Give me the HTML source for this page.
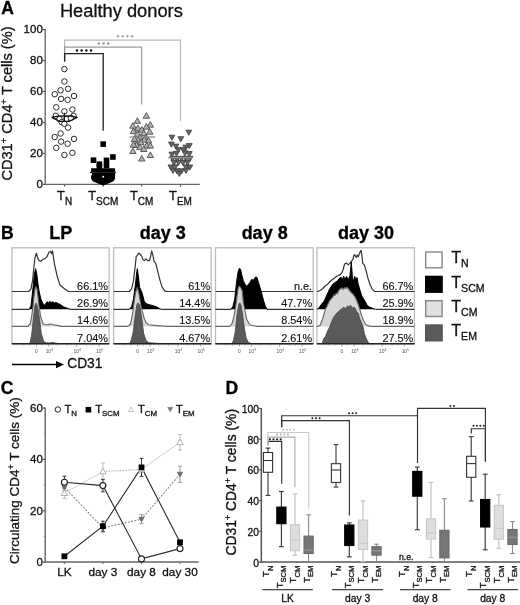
<!DOCTYPE html>
<html><head><meta charset="utf-8"><style>
html,body{margin:0;padding:0;background:#fff;}
svg{display:block;will-change:transform;}
text{font-family:"Liberation Sans", sans-serif;}
</style></head><body>
<svg width="520" height="605" viewBox="0 0 520 605">
<rect width="520" height="605" fill="#fff"/>
<text x="1.30" y="13.60" font-size="17.5" text-anchor="start" font-weight="bold" fill="#000" stroke="#000" stroke-width="0.3" >A</text>
<text x="59.90" y="16.60" font-size="18.3" text-anchor="start" font-weight="normal" fill="#111" stroke="#111" stroke-width="0.3" >Healthy donors</text>
<line x1="45.20" y1="29.10" x2="45.20" y2="185.00" stroke="#666" stroke-width="1.35" />
<line x1="44.50" y1="184.40" x2="199.80" y2="184.40" stroke="#666" stroke-width="1.4" />
<line x1="43.00" y1="184.40" x2="45.20" y2="184.40" stroke="#555" stroke-width="1.2" />
<text x="42.80" y="187.80" font-size="11.5" text-anchor="end" font-weight="normal" fill="#111" stroke="#111" stroke-width="0.3" >0</text>
<line x1="43.00" y1="153.44" x2="45.20" y2="153.44" stroke="#555" stroke-width="1.2" />
<text x="42.80" y="156.84" font-size="11.5" text-anchor="end" font-weight="normal" fill="#111" stroke="#111" stroke-width="0.3" >20</text>
<line x1="43.00" y1="122.48" x2="45.20" y2="122.48" stroke="#555" stroke-width="1.2" />
<text x="42.80" y="125.88" font-size="11.5" text-anchor="end" font-weight="normal" fill="#111" stroke="#111" stroke-width="0.3" >40</text>
<line x1="43.00" y1="91.52" x2="45.20" y2="91.52" stroke="#555" stroke-width="1.2" />
<text x="42.80" y="94.92" font-size="11.5" text-anchor="end" font-weight="normal" fill="#111" stroke="#111" stroke-width="0.3" >60</text>
<line x1="43.00" y1="60.56" x2="45.20" y2="60.56" stroke="#555" stroke-width="1.2" />
<text x="42.80" y="63.96" font-size="11.5" text-anchor="end" font-weight="normal" fill="#111" stroke="#111" stroke-width="0.3" >80</text>
<line x1="43.00" y1="29.60" x2="45.20" y2="29.60" stroke="#555" stroke-width="1.2" />
<text x="42.80" y="33.00" font-size="11.5" text-anchor="end" font-weight="normal" fill="#111" stroke="#111" stroke-width="0.3" >100</text>
<line x1="64.60" y1="184.40" x2="64.60" y2="186.60" stroke="#555" stroke-width="1.2" />
<line x1="103.20" y1="184.40" x2="103.20" y2="186.60" stroke="#555" stroke-width="1.2" />
<line x1="141.70" y1="184.40" x2="141.70" y2="186.60" stroke="#555" stroke-width="1.2" />
<line x1="180.50" y1="184.40" x2="180.50" y2="186.60" stroke="#555" stroke-width="1.2" />
<text x="64.60" y="200.40" font-size="12.8" text-anchor="middle" fill="#111" stroke="#111" stroke-width="0.3" >T<tspan font-size="10.0" dy="4.4">N</tspan></text>
<text x="103.20" y="200.40" font-size="12.8" text-anchor="middle" fill="#111" stroke="#111" stroke-width="0.3" >T<tspan font-size="10.0" dy="4.4">SCM</tspan></text>
<text x="141.70" y="200.40" font-size="12.8" text-anchor="middle" fill="#111" stroke="#111" stroke-width="0.3" >T<tspan font-size="10.0" dy="4.4">CM</tspan></text>
<text x="180.50" y="200.40" font-size="12.8" text-anchor="middle" fill="#111" stroke="#111" stroke-width="0.3" >T<tspan font-size="10.0" dy="4.4">EM</tspan></text>
<text transform="translate(12.3,180.6) rotate(-90)" font-size="14.6" fill="#111" stroke="#111" stroke-width="0.3">CD31<tspan font-size="9.5" dy="-5.5">+</tspan><tspan dy="5.5"> CD4</tspan><tspan font-size="9.5" dy="-5.5">+</tspan><tspan dy="5.5"> T cells (%)</tspan></text>
<path d="M64.60,62.00 L64.60,40.20 L180.50,40.20 L180.50,121.20" fill="none" stroke="#bbb" stroke-width="1.2" />
<path d="M64.60,62.00 L64.60,47.20 L141.70,47.20 L141.70,104.40" fill="none" stroke="#999" stroke-width="1.2" />
<path d="M64.60,61.60 L64.60,53.60 L103.20,53.60 L103.20,130.80" fill="none" stroke="#222" stroke-width="1.3" />
<circle cx="76.95" cy="50.60" r="1.25" fill="#111"/>
<circle cx="81.65" cy="50.60" r="1.25" fill="#111"/>
<circle cx="86.35" cy="50.60" r="1.25" fill="#111"/>
<circle cx="91.05" cy="50.60" r="1.25" fill="#111"/>
<circle cx="98.80" cy="43.60" r="1.25" fill="#999"/>
<circle cx="103.50" cy="43.60" r="1.25" fill="#999"/>
<circle cx="108.20" cy="43.60" r="1.25" fill="#999"/>
<circle cx="117.95" cy="36.30" r="1.25" fill="#aaa"/>
<circle cx="122.65" cy="36.30" r="1.25" fill="#aaa"/>
<circle cx="127.35" cy="36.30" r="1.25" fill="#aaa"/>
<circle cx="132.05" cy="36.30" r="1.25" fill="#aaa"/>
<circle cx="64.4" cy="69.1" r="2.75" fill="#fff" stroke="#2a2a2a" stroke-width="1.0"/>
<circle cx="64.4" cy="81.5" r="2.75" fill="#fff" stroke="#2a2a2a" stroke-width="1.0"/>
<circle cx="60.6" cy="90.3" r="2.75" fill="#fff" stroke="#2a2a2a" stroke-width="1.0"/>
<circle cx="68.1" cy="88.8" r="2.75" fill="#fff" stroke="#2a2a2a" stroke-width="1.0"/>
<circle cx="54.7" cy="94.2" r="2.75" fill="#fff" stroke="#2a2a2a" stroke-width="1.0"/>
<circle cx="74" cy="96" r="2.75" fill="#fff" stroke="#2a2a2a" stroke-width="1.0"/>
<circle cx="61.1" cy="98.9" r="2.75" fill="#fff" stroke="#2a2a2a" stroke-width="1.0"/>
<circle cx="67.6" cy="99.8" r="2.75" fill="#fff" stroke="#2a2a2a" stroke-width="1.0"/>
<circle cx="56.3" cy="107.3" r="2.75" fill="#fff" stroke="#2a2a2a" stroke-width="1.0"/>
<circle cx="64.4" cy="111.4" r="2.75" fill="#fff" stroke="#2a2a2a" stroke-width="1.0"/>
<circle cx="72.4" cy="109.5" r="2.75" fill="#fff" stroke="#2a2a2a" stroke-width="1.0"/>
<circle cx="55.8" cy="115.8" r="2.75" fill="#fff" stroke="#2a2a2a" stroke-width="1.0"/>
<circle cx="73.5" cy="115.8" r="2.75" fill="#fff" stroke="#2a2a2a" stroke-width="1.0"/>
<circle cx="59.5" cy="119" r="2.75" fill="#fff" stroke="#2a2a2a" stroke-width="1.0"/>
<circle cx="66.5" cy="119" r="2.75" fill="#fff" stroke="#2a2a2a" stroke-width="1.0"/>
<circle cx="70.8" cy="117.9" r="2.75" fill="#fff" stroke="#2a2a2a" stroke-width="1.0"/>
<circle cx="61.7" cy="122.2" r="2.75" fill="#fff" stroke="#2a2a2a" stroke-width="1.0"/>
<circle cx="64.4" cy="123.8" r="2.75" fill="#fff" stroke="#2a2a2a" stroke-width="1.0"/>
<circle cx="68.1" cy="127.6" r="2.75" fill="#fff" stroke="#2a2a2a" stroke-width="1.0"/>
<circle cx="60.6" cy="133.5" r="2.75" fill="#fff" stroke="#2a2a2a" stroke-width="1.0"/>
<circle cx="54.7" cy="137" r="2.75" fill="#fff" stroke="#2a2a2a" stroke-width="1.0"/>
<circle cx="74" cy="138.9" r="2.75" fill="#fff" stroke="#2a2a2a" stroke-width="1.0"/>
<circle cx="61.1" cy="141.6" r="2.75" fill="#fff" stroke="#2a2a2a" stroke-width="1.0"/>
<circle cx="67.6" cy="143.7" r="2.75" fill="#fff" stroke="#2a2a2a" stroke-width="1.0"/>
<circle cx="56.3" cy="147.8" r="2.75" fill="#fff" stroke="#2a2a2a" stroke-width="1.0"/>
<circle cx="64.4" cy="155" r="2.75" fill="#fff" stroke="#2a2a2a" stroke-width="1.0"/>
<circle cx="72.4" cy="152.8" r="2.75" fill="#fff" stroke="#2a2a2a" stroke-width="1.0"/>
<path d="M51.60,117.40 L58.00,116.20 L64.40,115.80 L70.80,116.20 L77.20,117.40 L69.50,121.30 L59.30,121.30 L51.60,117.40" fill="none" stroke="#111" stroke-width="1.2" stroke-linejoin="round"/>
<line x1="64.40" y1="112.80" x2="64.40" y2="121.30" stroke="#111" stroke-width="1.1" />
<path d="M91.10,168.30 L115.10,168.30 L115.10,178.50 L113.50,181.20 L109.00,183.20 L103.20,185.40 L97.40,183.20 L92.70,181.20 L91.10,178.50 L91.10,168.30" fill="#000" stroke="none" stroke-width="1" />
<rect x="100.40" y="141.30" width="5.6" height="5.6" fill="#000"/>
<rect x="110.10" y="154.20" width="5.6" height="5.6" fill="#000"/>
<rect x="90.70" y="157.40" width="5.6" height="5.6" fill="#000"/>
<rect x="96.60" y="161.40" width="5.6" height="5.6" fill="#000"/>
<rect x="103.70" y="157.60" width="5.6" height="5.6" fill="#000"/>
<rect x="103.70" y="162.80" width="5.6" height="5.6" fill="#000"/>
<rect x="96.60" y="163.70" width="5.6" height="5.6" fill="#000"/>
<rect x="90.6" y="173.2" width="1.4" height="2" fill="#fff"/>
<circle cx="103.2" cy="176.7" r="1.0" fill="#fff"/>
<line x1="90.00" y1="172.40" x2="116.00" y2="172.40" stroke="#222" stroke-width="1.1" />
<path d="M146.30,112.70 L149.50,118.30 L143.10,118.30Z" fill="#b2b2b2" stroke="#4e4e4e" stroke-width="0.9"/>
<path d="M137.40,117.70 L140.60,123.30 L134.20,123.30Z" fill="#b2b2b2" stroke="#4e4e4e" stroke-width="0.9"/>
<path d="M150.30,121.60 L153.50,127.20 L147.10,127.20Z" fill="#b2b2b2" stroke="#4e4e4e" stroke-width="0.9"/>
<path d="M132.90,122.60 L136.10,128.20 L129.70,128.20Z" fill="#b2b2b2" stroke="#4e4e4e" stroke-width="0.9"/>
<path d="M146.30,123.60 L149.50,129.20 L143.10,129.20Z" fill="#b2b2b2" stroke="#4e4e4e" stroke-width="0.9"/>
<path d="M137.90,125.10 L141.10,130.70 L134.70,130.70Z" fill="#b2b2b2" stroke="#4e4e4e" stroke-width="0.9"/>
<path d="M141.80,126.60 L145.00,132.20 L138.60,132.20Z" fill="#b2b2b2" stroke="#4e4e4e" stroke-width="0.9"/>
<path d="M133.40,128.10 L136.60,133.70 L130.20,133.70Z" fill="#b2b2b2" stroke="#4e4e4e" stroke-width="0.9"/>
<path d="M149.80,128.60 L153.00,134.20 L146.60,134.20Z" fill="#b2b2b2" stroke="#4e4e4e" stroke-width="0.9"/>
<path d="M143.80,130.10 L147.00,135.70 L140.60,135.70Z" fill="#b2b2b2" stroke="#4e4e4e" stroke-width="0.9"/>
<path d="M137.40,130.80 L140.60,136.40 L134.20,136.40Z" fill="#b2b2b2" stroke="#4e4e4e" stroke-width="0.9"/>
<path d="M140.00,133.80 L143.20,139.40 L136.80,139.40Z" fill="#b2b2b2" stroke="#4e4e4e" stroke-width="0.9"/>
<path d="M146.00,134.30 L149.20,139.90 L142.80,139.90Z" fill="#b2b2b2" stroke="#4e4e4e" stroke-width="0.9"/>
<path d="M137.90,136.50 L141.10,142.10 L134.70,142.10Z" fill="#b2b2b2" stroke="#4e4e4e" stroke-width="0.9"/>
<path d="M144.30,136.50 L147.50,142.10 L141.10,142.10Z" fill="#b2b2b2" stroke="#4e4e4e" stroke-width="0.9"/>
<path d="M134.50,135.80 L137.70,141.40 L131.30,141.40Z" fill="#b2b2b2" stroke="#4e4e4e" stroke-width="0.9"/>
<path d="M148.50,137.30 L151.70,142.90 L145.30,142.90Z" fill="#b2b2b2" stroke="#4e4e4e" stroke-width="0.9"/>
<path d="M141.00,139.30 L144.20,144.90 L137.80,144.90Z" fill="#b2b2b2" stroke="#4e4e4e" stroke-width="0.9"/>
<path d="M136.50,141.80 L139.70,147.40 L133.30,147.40Z" fill="#b2b2b2" stroke="#4e4e4e" stroke-width="0.9"/>
<path d="M133.40,141.50 L136.60,147.10 L130.20,147.10Z" fill="#b2b2b2" stroke="#4e4e4e" stroke-width="0.9"/>
<path d="M139.80,144.00 L143.00,149.60 L136.60,149.60Z" fill="#b2b2b2" stroke="#4e4e4e" stroke-width="0.9"/>
<path d="M146.80,142.50 L150.00,148.10 L143.60,148.10Z" fill="#b2b2b2" stroke="#4e4e4e" stroke-width="0.9"/>
<path d="M150.30,142.50 L153.50,148.10 L147.10,148.10Z" fill="#b2b2b2" stroke="#4e4e4e" stroke-width="0.9"/>
<path d="M143.80,145.90 L147.00,151.50 L140.60,151.50Z" fill="#b2b2b2" stroke="#4e4e4e" stroke-width="0.9"/>
<path d="M132.90,147.90 L136.10,153.50 L129.70,153.50Z" fill="#b2b2b2" stroke="#4e4e4e" stroke-width="0.9"/>
<path d="M150.30,151.90 L153.50,157.50 L147.10,157.50Z" fill="#b2b2b2" stroke="#4e4e4e" stroke-width="0.9"/>
<path d="M141.80,155.40 L145.00,161.00 L138.60,161.00Z" fill="#b2b2b2" stroke="#4e4e4e" stroke-width="0.9"/>
<line x1="129.40" y1="137.00" x2="155.20" y2="137.00" stroke="#888" stroke-width="1.2" />
<path d="M188.80,135.30 L191.70,130.22 L185.90,130.22Z" fill="#666" stroke="#444" stroke-width="0.9"/>
<path d="M171.90,140.30 L174.80,135.22 L169.00,135.22Z" fill="#666" stroke="#444" stroke-width="0.9"/>
<path d="M180.80,141.80 L183.70,136.72 L177.90,136.72Z" fill="#666" stroke="#444" stroke-width="0.9"/>
<path d="M171.40,147.20 L174.30,142.12 L168.50,142.12Z" fill="#666" stroke="#444" stroke-width="0.9"/>
<path d="M175.90,149.20 L178.80,144.12 L173.00,144.12Z" fill="#666" stroke="#444" stroke-width="0.9"/>
<path d="M189.30,148.70 L192.20,143.62 L186.40,143.62Z" fill="#666" stroke="#444" stroke-width="0.9"/>
<path d="M185.80,150.20 L188.70,145.12 L182.90,145.12Z" fill="#666" stroke="#444" stroke-width="0.9"/>
<path d="M178.40,152.70 L181.30,147.62 L175.50,147.62Z" fill="#666" stroke="#444" stroke-width="0.9"/>
<path d="M183.30,152.70 L186.20,147.62 L180.40,147.62Z" fill="#666" stroke="#444" stroke-width="0.9"/>
<path d="M171.90,157.20 L174.80,152.12 L169.00,152.12Z" fill="#666" stroke="#444" stroke-width="0.9"/>
<path d="M176.50,156.40 L179.40,151.32 L173.60,151.32Z" fill="#666" stroke="#444" stroke-width="0.9"/>
<path d="M185.00,155.90 L187.90,150.82 L182.10,150.82Z" fill="#666" stroke="#444" stroke-width="0.9"/>
<path d="M189.30,156.70 L192.20,151.62 L186.40,151.62Z" fill="#666" stroke="#444" stroke-width="0.9"/>
<path d="M172.50,161.40 L175.40,156.32 L169.60,156.32Z" fill="#666" stroke="#444" stroke-width="0.9"/>
<path d="M177.00,161.90 L179.90,156.82 L174.10,156.82Z" fill="#666" stroke="#444" stroke-width="0.9"/>
<path d="M181.50,161.40 L184.40,156.32 L178.60,156.32Z" fill="#666" stroke="#444" stroke-width="0.9"/>
<path d="M186.00,161.40 L188.90,156.32 L183.10,156.32Z" fill="#666" stroke="#444" stroke-width="0.9"/>
<path d="M190.00,161.40 L192.90,156.32 L187.10,156.32Z" fill="#666" stroke="#444" stroke-width="0.9"/>
<path d="M174.00,165.40 L176.90,160.32 L171.10,160.32Z" fill="#666" stroke="#444" stroke-width="0.9"/>
<path d="M178.50,165.40 L181.40,160.32 L175.60,160.32Z" fill="#666" stroke="#444" stroke-width="0.9"/>
<path d="M183.00,165.40 L185.90,160.32 L180.10,160.32Z" fill="#666" stroke="#444" stroke-width="0.9"/>
<path d="M187.50,165.40 L190.40,160.32 L184.60,160.32Z" fill="#666" stroke="#444" stroke-width="0.9"/>
<path d="M170.90,170.10 L173.80,165.02 L168.00,165.02Z" fill="#666" stroke="#444" stroke-width="0.9"/>
<path d="M175.00,169.90 L177.90,164.82 L172.10,164.82Z" fill="#666" stroke="#444" stroke-width="0.9"/>
<path d="M186.00,169.90 L188.90,164.82 L183.10,164.82Z" fill="#666" stroke="#444" stroke-width="0.9"/>
<path d="M189.80,170.10 L192.70,165.02 L186.90,165.02Z" fill="#666" stroke="#444" stroke-width="0.9"/>
<path d="M173.00,173.40 L175.90,168.32 L170.10,168.32Z" fill="#666" stroke="#444" stroke-width="0.9"/>
<path d="M177.00,173.90 L179.90,168.82 L174.10,168.82Z" fill="#666" stroke="#444" stroke-width="0.9"/>
<path d="M181.50,173.90 L184.40,168.82 L178.60,168.82Z" fill="#666" stroke="#444" stroke-width="0.9"/>
<path d="M186.00,173.40 L188.90,168.32 L183.10,168.32Z" fill="#666" stroke="#444" stroke-width="0.9"/>
<path d="M179.30,176.50 L182.20,171.42 L176.40,171.42Z" fill="#666" stroke="#444" stroke-width="0.9"/>
<line x1="168.00" y1="157.70" x2="193.20" y2="157.70" stroke="#999" stroke-width="1.2" />
<text x="1.00" y="238.60" font-size="17.5" text-anchor="start" font-weight="bold" fill="#000" stroke="#000" stroke-width="0.3" >B</text>
<text x="60.80" y="239.10" font-size="18.0" text-anchor="middle" font-weight="bold" fill="#000" stroke="#000" stroke-width="0.3" >LP</text>
<text x="162.70" y="239.10" font-size="18.0" text-anchor="middle" font-weight="bold" fill="#000" stroke="#000" stroke-width="0.3" >day 3</text>
<text x="264.65" y="239.10" font-size="18.0" text-anchor="middle" font-weight="bold" fill="#000" stroke="#000" stroke-width="0.3" >day 8</text>
<text x="365.95" y="239.10" font-size="18.0" text-anchor="middle" font-weight="bold" fill="#000" stroke="#000" stroke-width="0.3" >day 30</text>
<defs>
<clipPath id="clipB0"><rect x="11.9" y="247.8" width="97.19999999999999" height="97.0"/></clipPath>
<clipPath id="clipB1"><rect x="113.6" y="247.8" width="97.6" height="97.0"/></clipPath>
<clipPath id="clipB2"><rect x="215.5" y="247.8" width="97.69999999999999" height="97.0"/></clipPath>
<clipPath id="clipB3"><rect x="316.9" y="247.8" width="97.5" height="97.0"/></clipPath>
</defs>
<rect x="11.9" y="247.8" width="97.20" height="96.00" fill="#fff" stroke="#bdbdbd" stroke-width="1.3"/>
<g clip-path="url(#clipB0)">
<path d="M10.90,291.50 L28.70,291.50 L31.00,288.80 L32.70,279.60 L33.80,268.00 L35.00,257.70 L36.40,253.10 L37.30,256.50 L38.50,260.00 L40.80,261.20 L43.10,259.40 L44.80,258.80 L47.10,256.50 L48.80,252.50 L50.60,251.30 L51.70,253.70 L52.50,250.80 L53.50,257.70 L54.60,264.60 L56.90,275.00 L59.80,284.80 L63.80,288.30 L68.50,291.50 L110.10,291.50 Z" fill="#fff" stroke="none"/>
<path d="M10.90,291.50 L28.70,291.50 L31.00,288.80 L32.70,279.60 L33.80,268.00 L35.00,257.70 L36.40,253.10 L37.30,256.50 L38.50,260.00 L40.80,261.20 L43.10,259.40 L44.80,258.80 L47.10,256.50 L48.80,252.50 L50.60,251.30 L51.70,253.70 L52.50,250.80 L53.50,257.70 L54.60,264.60 L56.90,275.00 L59.80,284.80 L63.80,288.30 L68.50,291.50 L110.10,291.50" fill="none" stroke="#333" stroke-width="1.2" stroke-linejoin="round"/>
<path d="M10.90,309.30 L29.20,309.30 L31.00,305.80 L32.10,296.50 L33.30,285.00 L34.30,275.00 L35.60,268.70 L36.80,274.00 L37.80,283.00 L39.00,290.80 L40.80,298.80 L43.10,304.00 L44.80,305.20 L46.00,303.00 L47.10,301.70 L48.50,302.80 L49.50,301.50 L51.20,302.30 L52.50,301.80 L54.60,302.90 L56.00,302.50 L58.10,303.50 L60.40,304.60 L63.80,306.90 L68.50,308.70 L70.80,309.30 L110.10,309.30 Z" fill="#000" stroke="none"/>
<path d="M10.90,309.30 L29.20,309.30 L31.00,305.80 L32.10,296.50 L33.30,285.00 L34.30,275.00 L35.60,268.70 L36.80,274.00 L37.80,283.00 L39.00,290.80 L40.80,298.80 L43.10,304.00 L44.80,305.20 L46.00,303.00 L47.10,301.70 L48.50,302.80 L49.50,301.50 L51.20,302.30 L52.50,301.80 L54.60,302.90 L56.00,302.50 L58.10,303.50 L60.40,304.60 L63.80,306.90 L68.50,308.70 L70.80,309.30 L110.10,309.30" fill="none" stroke="#000" stroke-width="1.0" stroke-linejoin="round"/>
<path d="M10.90,326.40 L28.10,326.40 L30.40,323.10 L31.50,317.30 L32.70,309.20 L33.80,298.00 L35.00,289.00 L35.90,286.50 L37.00,289.00 L38.00,297.00 L39.00,306.00 L40.80,317.30 L43.10,323.70 L46.00,324.80 L48.00,324.60 L50.60,324.00 L53.50,324.80 L58.10,325.60 L62.00,326.40 L110.10,326.40 Z" fill="#d6d6d6" stroke="none"/>
<path d="M10.90,326.40 L28.10,326.40 L30.40,323.10 L31.50,317.30 L32.70,309.20 L33.80,298.00 L35.00,289.00 L35.90,286.50 L37.00,289.00 L38.00,297.00 L39.00,306.00 L40.80,317.30 L43.10,323.70 L46.00,324.80 L48.00,324.60 L50.60,324.00 L53.50,324.80 L58.10,325.60 L62.00,326.40 L110.10,326.40" fill="none" stroke="#666" stroke-width="1.1" stroke-linejoin="round"/>
<path d="M10.90,343.60 L29.80,343.60 L31.50,335.80 L33.30,319.60 L35.00,305.20 L36.20,302.90 L37.90,308.10 L39.60,319.60 L41.30,333.50 L43.70,341.50 L46.00,342.80 L50.00,342.90 L53.00,342.50 L56.00,343.20 L60.00,343.60 L110.10,343.60 Z" fill="#5a5a5a" stroke="none"/>
<path d="M10.90,343.60 L29.80,343.60 L31.50,335.80 L33.30,319.60 L35.00,305.20 L36.20,302.90 L37.90,308.10 L39.60,319.60 L41.30,333.50 L43.70,341.50 L46.00,342.80 L50.00,342.90 L53.00,342.50 L56.00,343.20 L60.00,343.60 L110.10,343.60" fill="none" stroke="#444" stroke-width="0.8" stroke-linejoin="round"/>
</g>
<text x="108.00" y="289.50" font-size="10.9" text-anchor="end" font-weight="normal" fill="#111" stroke="#111" stroke-width="0.12" >66.1%</text>
<text x="108.00" y="307.30" font-size="10.9" text-anchor="end" font-weight="normal" fill="#111" stroke="#111" stroke-width="0.12" >26.9%</text>
<text x="108.00" y="324.40" font-size="10.9" text-anchor="end" font-weight="normal" fill="#111" stroke="#111" stroke-width="0.12" >14.6%</text>
<text x="108.00" y="341.60" font-size="10.9" text-anchor="end" font-weight="normal" fill="#111" stroke="#111" stroke-width="0.12" >7.04%</text>
<line x1="11.90" y1="343.80" x2="109.10" y2="343.80" stroke="#222" stroke-width="1.6" />
<line x1="36.50" y1="344.60" x2="36.50" y2="346.40" stroke="#666" stroke-width="0.7" />
<text x="36.40" y="353.30" font-size="4.9" text-anchor="middle" font-weight="normal" fill="#555"  >0</text>
<line x1="48.70" y1="344.60" x2="48.70" y2="346.40" stroke="#666" stroke-width="0.7" />
<text x="49.30" y="353.3" font-size="4.9" text-anchor="middle" fill="#555">10<tspan font-size="3.4" dy="-2.2">3</tspan></text>
<line x1="76.70" y1="344.60" x2="76.70" y2="346.40" stroke="#666" stroke-width="0.7" />
<text x="77.20" y="353.3" font-size="4.9" text-anchor="middle" fill="#555">10<tspan font-size="3.4" dy="-2.2">4</tspan></text>
<line x1="99.10" y1="344.60" x2="99.10" y2="346.40" stroke="#666" stroke-width="0.7" />
<text x="99.80" y="353.3" font-size="4.9" text-anchor="middle" fill="#555">10<tspan font-size="3.4" dy="-2.2">5</tspan></text>
<line x1="22.70" y1="344.60" x2="22.70" y2="345.80" stroke="#777" stroke-width="0.6" />
<line x1="29.60" y1="344.60" x2="29.60" y2="345.80" stroke="#777" stroke-width="0.6" />
<line x1="42.00" y1="344.60" x2="42.00" y2="345.80" stroke="#777" stroke-width="0.6" />
<line x1="57.50" y1="344.60" x2="57.50" y2="345.80" stroke="#777" stroke-width="0.6" />
<line x1="67.00" y1="344.60" x2="67.00" y2="345.80" stroke="#777" stroke-width="0.6" />
<line x1="86.50" y1="344.60" x2="86.50" y2="345.80" stroke="#777" stroke-width="0.6" />
<line x1="92.50" y1="344.60" x2="92.50" y2="345.80" stroke="#777" stroke-width="0.6" />
<rect x="113.6" y="247.8" width="97.60" height="96.00" fill="#fff" stroke="#bdbdbd" stroke-width="1.3"/>
<g clip-path="url(#clipB1)">
<path d="M112.60,291.50 L129.20,291.50 L131.50,288.80 L133.30,281.90 L135.00,268.10 L136.20,256.50 L137.30,255.40 L138.70,253.10 L140.20,254.20 L141.90,256.50 L142.80,259.40 L144.20,260.60 L146.00,258.80 L147.70,260.60 L149.40,260.60 L150.60,256.50 L151.70,250.80 L152.90,255.40 L154.00,261.20 L155.80,263.50 L157.50,270.40 L159.80,279.60 L162.10,287.10 L165.00,291.20 L167.30,291.50 L212.20,291.50 Z" fill="#fff" stroke="none"/>
<path d="M112.60,291.50 L129.20,291.50 L131.50,288.80 L133.30,281.90 L135.00,268.10 L136.20,256.50 L137.30,255.40 L138.70,253.10 L140.20,254.20 L141.90,256.50 L142.80,259.40 L144.20,260.60 L146.00,258.80 L147.70,260.60 L149.40,260.60 L150.60,256.50 L151.70,250.80 L152.90,255.40 L154.00,261.20 L155.80,263.50 L157.50,270.40 L159.80,279.60 L162.10,287.10 L165.00,291.20 L167.30,291.50 L212.20,291.50" fill="none" stroke="#333" stroke-width="1.2" stroke-linejoin="round"/>
<path d="M112.60,309.30 L129.20,309.30 L131.50,306.90 L133.30,300.00 L134.40,291.90 L135.60,283.00 L136.50,274.00 L137.30,268.70 L138.30,276.00 L139.60,287.30 L141.30,290.80 L143.10,296.50 L144.20,301.20 L146.00,303.50 L148.80,304.60 L151.20,305.20 L153.50,305.80 L156.90,306.90 L159.80,308.70 L161.50,309.30 L212.20,309.30 Z" fill="#000" stroke="none"/>
<path d="M112.60,309.30 L129.20,309.30 L131.50,306.90 L133.30,300.00 L134.40,291.90 L135.60,283.00 L136.50,274.00 L137.30,268.70 L138.30,276.00 L139.60,287.30 L141.30,290.80 L143.10,296.50 L144.20,301.20 L146.00,303.50 L148.80,304.60 L151.20,305.20 L153.50,305.80 L156.90,306.90 L159.80,308.70 L161.50,309.30 L212.20,309.30" fill="none" stroke="#000" stroke-width="1.0" stroke-linejoin="round"/>
<path d="M112.60,326.40 L127.50,326.40 L130.40,324.20 L131.50,319.60 L132.70,312.70 L134.00,303.00 L135.50,293.00 L137.30,287.30 L139.00,294.00 L141.30,308.10 L143.10,313.80 L144.20,318.50 L146.00,322.50 L148.80,324.80 L154.60,325.40 L166.20,326.40 L212.20,326.40 Z" fill="#d6d6d6" stroke="none"/>
<path d="M112.60,326.40 L127.50,326.40 L130.40,324.20 L131.50,319.60 L132.70,312.70 L134.00,303.00 L135.50,293.00 L137.30,287.30 L139.00,294.00 L141.30,308.10 L143.10,313.80 L144.20,318.50 L146.00,322.50 L148.80,324.80 L154.60,325.40 L166.20,326.40 L212.20,326.40" fill="none" stroke="#666" stroke-width="1.1" stroke-linejoin="round"/>
<path d="M112.60,343.60 L129.80,343.60 L131.50,339.20 L133.30,331.20 L135.00,317.30 L136.70,305.20 L137.90,302.90 L139.00,304.00 L140.20,308.10 L141.90,319.60 L143.70,333.50 L146.00,340.40 L148.80,342.70 L155.00,343.20 L160.00,343.60 L212.20,343.60 Z" fill="#5a5a5a" stroke="none"/>
<path d="M112.60,343.60 L129.80,343.60 L131.50,339.20 L133.30,331.20 L135.00,317.30 L136.70,305.20 L137.90,302.90 L139.00,304.00 L140.20,308.10 L141.90,319.60 L143.70,333.50 L146.00,340.40 L148.80,342.70 L155.00,343.20 L160.00,343.60 L212.20,343.60" fill="none" stroke="#444" stroke-width="0.8" stroke-linejoin="round"/>
</g>
<text x="210.10" y="289.50" font-size="10.9" text-anchor="end" font-weight="normal" fill="#111" stroke="#111" stroke-width="0.12" >61%</text>
<text x="210.10" y="307.30" font-size="10.9" text-anchor="end" font-weight="normal" fill="#111" stroke="#111" stroke-width="0.12" >14.4%</text>
<text x="210.10" y="324.40" font-size="10.9" text-anchor="end" font-weight="normal" fill="#111" stroke="#111" stroke-width="0.12" >13.5%</text>
<text x="210.10" y="341.60" font-size="10.9" text-anchor="end" font-weight="normal" fill="#111" stroke="#111" stroke-width="0.12" >4.67%</text>
<line x1="113.60" y1="343.80" x2="211.20" y2="343.80" stroke="#222" stroke-width="1.6" />
<line x1="137.80" y1="344.60" x2="137.80" y2="346.40" stroke="#666" stroke-width="0.7" />
<text x="137.70" y="353.30" font-size="4.9" text-anchor="middle" font-weight="normal" fill="#555"  >0</text>
<line x1="150.00" y1="344.60" x2="150.00" y2="346.40" stroke="#666" stroke-width="0.7" />
<text x="150.60" y="353.3" font-size="4.9" text-anchor="middle" fill="#555">10<tspan font-size="3.4" dy="-2.2">3</tspan></text>
<line x1="178.00" y1="344.60" x2="178.00" y2="346.40" stroke="#666" stroke-width="0.7" />
<text x="178.50" y="353.3" font-size="4.9" text-anchor="middle" fill="#555">10<tspan font-size="3.4" dy="-2.2">4</tspan></text>
<line x1="200.40" y1="344.60" x2="200.40" y2="346.40" stroke="#666" stroke-width="0.7" />
<text x="201.10" y="353.3" font-size="4.9" text-anchor="middle" fill="#555">10<tspan font-size="3.4" dy="-2.2">5</tspan></text>
<line x1="124.00" y1="344.60" x2="124.00" y2="345.80" stroke="#777" stroke-width="0.6" />
<line x1="130.90" y1="344.60" x2="130.90" y2="345.80" stroke="#777" stroke-width="0.6" />
<line x1="143.30" y1="344.60" x2="143.30" y2="345.80" stroke="#777" stroke-width="0.6" />
<line x1="158.80" y1="344.60" x2="158.80" y2="345.80" stroke="#777" stroke-width="0.6" />
<line x1="168.30" y1="344.60" x2="168.30" y2="345.80" stroke="#777" stroke-width="0.6" />
<line x1="187.80" y1="344.60" x2="187.80" y2="345.80" stroke="#777" stroke-width="0.6" />
<line x1="193.80" y1="344.60" x2="193.80" y2="345.80" stroke="#777" stroke-width="0.6" />
<rect x="215.5" y="247.8" width="97.70" height="96.00" fill="#fff" stroke="#bdbdbd" stroke-width="1.3"/>
<g clip-path="url(#clipB2)">
<line x1="215.50" y1="291.50" x2="313.20" y2="291.50" stroke="#333" stroke-width="1.2" />
<path d="M214.50,309.30 L231.20,309.30 L233.00,306.20 L234.70,299.20 L235.80,288.80 L237.00,278.50 L238.20,271.50 L239.50,268.10 L240.70,269.80 L241.80,275.00 L243.30,280.80 L245.10,284.20 L246.80,286.50 L248.50,284.20 L250.30,281.90 L251.40,279.60 L253.20,280.20 L254.90,277.90 L256.00,276.70 L257.20,277.90 L258.30,281.90 L260.10,287.70 L261.80,293.50 L263.50,300.40 L265.30,306.20 L267.00,309.30 L314.20,309.30 Z" fill="#000" stroke="none"/>
<path d="M214.50,309.30 L231.20,309.30 L233.00,306.20 L234.70,299.20 L235.80,288.80 L237.00,278.50 L238.20,271.50 L239.50,268.10 L240.70,269.80 L241.80,275.00 L243.30,280.80 L245.10,284.20 L246.80,286.50 L248.50,284.20 L250.30,281.90 L251.40,279.60 L253.20,280.20 L254.90,277.90 L256.00,276.70 L257.20,277.90 L258.30,281.90 L260.10,287.70 L261.80,293.50 L263.50,300.40 L265.30,306.20 L267.00,309.30 L314.20,309.30" fill="none" stroke="#000" stroke-width="1.0" stroke-linejoin="round"/>
<path d="M214.50,326.40 L229.50,326.40 L231.80,324.20 L233.50,318.50 L235.30,309.20 L237.00,296.50 L238.20,288.00 L239.30,286.00 L240.60,287.50 L242.20,290.80 L243.30,302.30 L245.10,311.50 L246.80,319.60 L249.70,324.80 L256.60,326.40 L314.20,326.40 Z" fill="#d6d6d6" stroke="none"/>
<path d="M214.50,326.40 L229.50,326.40 L231.80,324.20 L233.50,318.50 L235.30,309.20 L237.00,296.50 L238.20,288.00 L239.30,286.00 L240.60,287.50 L242.20,290.80 L243.30,302.30 L245.10,311.50 L246.80,319.60 L249.70,324.80 L256.60,326.40 L314.20,326.40" fill="none" stroke="#666" stroke-width="1.1" stroke-linejoin="round"/>
<path d="M214.50,343.60 L231.80,343.60 L233.50,340.40 L235.30,331.20 L237.00,315.00 L238.70,304.60 L239.90,302.90 L241.00,305.20 L242.80,316.20 L244.50,328.80 L246.20,338.10 L248.50,342.70 L252.00,343.60 L314.20,343.60 Z" fill="#5a5a5a" stroke="none"/>
<path d="M214.50,343.60 L231.80,343.60 L233.50,340.40 L235.30,331.20 L237.00,315.00 L238.70,304.60 L239.90,302.90 L241.00,305.20 L242.80,316.20 L244.50,328.80 L246.20,338.10 L248.50,342.70 L252.00,343.60 L314.20,343.60" fill="none" stroke="#444" stroke-width="0.8" stroke-linejoin="round"/>
</g>
<text x="312.10" y="289.50" font-size="10.9" text-anchor="end" font-weight="normal" fill="#111" stroke="#111" stroke-width="0.12" >n.e.</text>
<text x="312.10" y="307.30" font-size="10.9" text-anchor="end" font-weight="normal" fill="#111" stroke="#111" stroke-width="0.12" >47.7%</text>
<text x="312.10" y="324.40" font-size="10.9" text-anchor="end" font-weight="normal" fill="#111" stroke="#111" stroke-width="0.12" >8.54%</text>
<text x="312.10" y="341.60" font-size="10.9" text-anchor="end" font-weight="normal" fill="#111" stroke="#111" stroke-width="0.12" >2.61%</text>
<line x1="215.50" y1="343.80" x2="313.20" y2="343.80" stroke="#222" stroke-width="1.6" />
<line x1="239.40" y1="344.60" x2="239.40" y2="346.40" stroke="#666" stroke-width="0.7" />
<text x="239.30" y="353.30" font-size="4.9" text-anchor="middle" font-weight="normal" fill="#555"  >0</text>
<line x1="251.60" y1="344.60" x2="251.60" y2="346.40" stroke="#666" stroke-width="0.7" />
<text x="252.20" y="353.3" font-size="4.9" text-anchor="middle" fill="#555">10<tspan font-size="3.4" dy="-2.2">3</tspan></text>
<line x1="279.60" y1="344.60" x2="279.60" y2="346.40" stroke="#666" stroke-width="0.7" />
<text x="280.10" y="353.3" font-size="4.9" text-anchor="middle" fill="#555">10<tspan font-size="3.4" dy="-2.2">4</tspan></text>
<line x1="302.00" y1="344.60" x2="302.00" y2="346.40" stroke="#666" stroke-width="0.7" />
<text x="302.70" y="353.3" font-size="4.9" text-anchor="middle" fill="#555">10<tspan font-size="3.4" dy="-2.2">5</tspan></text>
<line x1="225.60" y1="344.60" x2="225.60" y2="345.80" stroke="#777" stroke-width="0.6" />
<line x1="232.50" y1="344.60" x2="232.50" y2="345.80" stroke="#777" stroke-width="0.6" />
<line x1="244.90" y1="344.60" x2="244.90" y2="345.80" stroke="#777" stroke-width="0.6" />
<line x1="260.40" y1="344.60" x2="260.40" y2="345.80" stroke="#777" stroke-width="0.6" />
<line x1="269.90" y1="344.60" x2="269.90" y2="345.80" stroke="#777" stroke-width="0.6" />
<line x1="289.40" y1="344.60" x2="289.40" y2="345.80" stroke="#777" stroke-width="0.6" />
<line x1="295.40" y1="344.60" x2="295.40" y2="345.80" stroke="#777" stroke-width="0.6" />
<rect x="316.9" y="247.8" width="97.50" height="96.00" fill="#fff" stroke="#bdbdbd" stroke-width="1.3"/>
<g clip-path="url(#clipB3)">
<path d="M315.90,291.50 L317.70,291.50 L320.00,290.50 L322.90,288.50 L325.00,286.00 L327.50,284.40 L330.00,281.50 L332.20,279.80 L334.50,278.00 L336.80,276.30 L338.50,275.50 L340.20,274.60 L342.00,272.30 L343.10,270.00 L344.00,266.00 L344.80,263.70 L346.60,263.10 L348.30,264.80 L350.00,263.10 L351.20,261.30 L352.90,259.60 L353.60,256.50 L354.40,254.50 L355.20,255.50 L356.20,257.50 L357.20,255.00 L358.20,256.80 L359.60,253.30 L360.50,251.00 L361.20,250.50 L361.80,255.00 L362.70,263.10 L364.50,265.40 L366.20,271.20 L367.90,278.10 L370.20,285.00 L372.50,289.60 L374.80,291.50 L415.40,291.50 Z" fill="#fff" stroke="none"/>
<path d="M315.90,291.50 L317.70,291.50 L320.00,290.50 L322.90,288.50 L325.00,286.00 L327.50,284.40 L330.00,281.50 L332.20,279.80 L334.50,278.00 L336.80,276.30 L338.50,275.50 L340.20,274.60 L342.00,272.30 L343.10,270.00 L344.00,266.00 L344.80,263.70 L346.60,263.10 L348.30,264.80 L350.00,263.10 L351.20,261.30 L352.90,259.60 L353.60,256.50 L354.40,254.50 L355.20,255.50 L356.20,257.50 L357.20,255.00 L358.20,256.80 L359.60,253.30 L360.50,251.00 L361.20,250.50 L361.80,255.00 L362.70,263.10 L364.50,265.40 L366.20,271.20 L367.90,278.10 L370.20,285.00 L372.50,289.60 L374.80,291.50 L415.40,291.50" fill="none" stroke="#333" stroke-width="1.2" stroke-linejoin="round"/>
<path d="M315.90,309.30 L318.30,308.70 L321.20,304.60 L324.10,301.20 L327.00,294.80 L329.30,289.60 L332.20,285.00 L334.50,282.70 L337.30,281.00 L339.70,278.10 L340.80,276.90 L342.00,280.00 L343.70,276.30 L345.00,279.50 L346.60,276.30 L348.20,280.50 L349.30,277.00 L350.00,275.20 L350.70,268.00 L351.30,262.00 L351.90,270.00 L352.50,279.00 L353.50,281.00 L354.70,276.30 L355.80,280.00 L357.00,277.50 L358.10,283.80 L359.80,289.60 L361.60,295.40 L363.30,298.30 L365.00,301.20 L366.80,304.60 L369.10,306.90 L372.50,308.30 L375.40,309.30 L415.40,309.30 Z" fill="#000" stroke="none"/>
<path d="M315.90,309.30 L318.30,308.70 L321.20,304.60 L324.10,301.20 L327.00,294.80 L329.30,289.60 L332.20,285.00 L334.50,282.70 L337.30,281.00 L339.70,278.10 L340.80,276.90 L342.00,280.00 L343.70,276.30 L345.00,279.50 L346.60,276.30 L348.20,280.50 L349.30,277.00 L350.00,275.20 L350.70,268.00 L351.30,262.00 L351.90,270.00 L352.50,279.00 L353.50,281.00 L354.70,276.30 L355.80,280.00 L357.00,277.50 L358.10,283.80 L359.80,289.60 L361.60,295.40 L363.30,298.30 L365.00,301.20 L366.80,304.60 L369.10,306.90 L372.50,308.30 L375.40,309.30 L415.40,309.30" fill="none" stroke="#000" stroke-width="1.0" stroke-linejoin="round"/>
<path d="M315.90,326.40 L318.00,326.40 L320.10,325.20 L322.20,320.00 L324.20,313.50 L325.50,309.00 L327.00,306.30 L329.30,301.20 L331.60,298.30 L332.80,297.00 L333.90,294.80 L335.00,295.50 L336.20,293.10 L337.40,293.80 L338.50,290.80 L340.20,289.00 L342.00,287.90 L343.20,289.50 L344.30,287.50 L345.40,288.50 L347.20,287.30 L348.90,289.60 L350.60,291.90 L352.90,294.20 L355.20,297.10 L357.00,301.20 L358.70,305.80 L360.40,311.50 L361.60,315.50 L363.70,321.00 L365.80,324.50 L368.60,325.90 L371.00,326.40 L415.40,326.40 Z" fill="#d6d6d6" stroke="none"/>
<path d="M315.90,326.40 L318.00,326.40 L320.10,325.20 L322.20,320.00 L324.20,313.50 L325.50,309.00 L327.00,306.30 L329.30,301.20 L331.60,298.30 L332.80,297.00 L333.90,294.80 L335.00,295.50 L336.20,293.10 L337.40,293.80 L338.50,290.80 L340.20,289.00 L342.00,287.90 L343.20,289.50 L344.30,287.50 L345.40,288.50 L347.20,287.30 L348.90,289.60 L350.60,291.90 L352.90,294.20 L355.20,297.10 L357.00,301.20 L358.70,305.80 L360.40,311.50 L361.60,315.50 L363.70,321.00 L365.80,324.50 L368.60,325.90 L371.00,326.40 L415.40,326.40" fill="none" stroke="#666" stroke-width="1.1" stroke-linejoin="round"/>
<path d="M315.90,343.60 L322.20,343.60 L323.50,339.00 L325.60,336.20 L327.70,330.70 L329.80,326.60 L331.90,321.00 L333.90,316.90 L336.00,314.10 L338.10,312.00 L340.20,309.90 L342.20,308.50 L343.60,307.20 L345.50,308.50 L347.80,305.80 L349.20,307.50 L350.50,305.10 L352.00,308.00 L354.00,307.20 L355.40,308.50 L356.80,312.00 L358.20,313.00 L359.60,318.20 L361.60,323.10 L363.00,326.60 L364.40,333.50 L365.80,337.60 L367.90,341.80 L369.20,343.60 L415.40,343.60 Z" fill="#5a5a5a" stroke="none"/>
<path d="M315.90,343.60 L322.20,343.60 L323.50,339.00 L325.60,336.20 L327.70,330.70 L329.80,326.60 L331.90,321.00 L333.90,316.90 L336.00,314.10 L338.10,312.00 L340.20,309.90 L342.20,308.50 L343.60,307.20 L345.50,308.50 L347.80,305.80 L349.20,307.50 L350.50,305.10 L352.00,308.00 L354.00,307.20 L355.40,308.50 L356.80,312.00 L358.20,313.00 L359.60,318.20 L361.60,323.10 L363.00,326.60 L364.40,333.50 L365.80,337.60 L367.90,341.80 L369.20,343.60 L415.40,343.60" fill="none" stroke="#444" stroke-width="0.8" stroke-linejoin="round"/>
</g>
<text x="413.30" y="289.50" font-size="10.9" text-anchor="end" font-weight="normal" fill="#111" stroke="#111" stroke-width="0.12" >66.7%</text>
<text x="413.30" y="307.30" font-size="10.9" text-anchor="end" font-weight="normal" fill="#111" stroke="#111" stroke-width="0.12" >25.9%</text>
<text x="413.30" y="324.40" font-size="10.9" text-anchor="end" font-weight="normal" fill="#111" stroke="#111" stroke-width="0.12" >18.9%</text>
<text x="413.30" y="341.60" font-size="10.9" text-anchor="end" font-weight="normal" fill="#111" stroke="#111" stroke-width="0.12" >27.5%</text>
<line x1="316.90" y1="343.80" x2="414.40" y2="343.80" stroke="#222" stroke-width="1.6" />
<line x1="342.00" y1="344.60" x2="342.00" y2="346.40" stroke="#666" stroke-width="0.7" />
<text x="341.90" y="353.30" font-size="4.9" text-anchor="middle" font-weight="normal" fill="#555"  >0</text>
<line x1="354.20" y1="344.60" x2="354.20" y2="346.40" stroke="#666" stroke-width="0.7" />
<text x="354.80" y="353.3" font-size="4.9" text-anchor="middle" fill="#555">10<tspan font-size="3.4" dy="-2.2">3</tspan></text>
<line x1="382.20" y1="344.60" x2="382.20" y2="346.40" stroke="#666" stroke-width="0.7" />
<text x="382.70" y="353.3" font-size="4.9" text-anchor="middle" fill="#555">10<tspan font-size="3.4" dy="-2.2">4</tspan></text>
<line x1="404.60" y1="344.60" x2="404.60" y2="346.40" stroke="#666" stroke-width="0.7" />
<text x="405.30" y="353.3" font-size="4.9" text-anchor="middle" fill="#555">10<tspan font-size="3.4" dy="-2.2">5</tspan></text>
<line x1="328.20" y1="344.60" x2="328.20" y2="345.80" stroke="#777" stroke-width="0.6" />
<line x1="335.10" y1="344.60" x2="335.10" y2="345.80" stroke="#777" stroke-width="0.6" />
<line x1="347.50" y1="344.60" x2="347.50" y2="345.80" stroke="#777" stroke-width="0.6" />
<line x1="363.00" y1="344.60" x2="363.00" y2="345.80" stroke="#777" stroke-width="0.6" />
<line x1="372.50" y1="344.60" x2="372.50" y2="345.80" stroke="#777" stroke-width="0.6" />
<line x1="392.00" y1="344.60" x2="392.00" y2="345.80" stroke="#777" stroke-width="0.6" />
<line x1="398.00" y1="344.60" x2="398.00" y2="345.80" stroke="#777" stroke-width="0.6" />
<line x1="12.00" y1="364.60" x2="57.00" y2="364.60" stroke="#000" stroke-width="1.5" />
<path d="M56.00,360.90 L64.00,364.60 L56.00,368.30" fill="#000" stroke="none" stroke-width="1" />
<text x="67.20" y="368.20" font-size="13.8" text-anchor="start" font-weight="normal" fill="#111" stroke="#111" stroke-width="0.3" >CD31</text>
<rect x="425.7" y="252.00" width="16.4" height="15.8" fill="#fff" stroke="#888" stroke-width="1.4"/>
<text x="451.20" y="263.30" font-size="16.2" text-anchor="start" fill="#111" stroke="#111" stroke-width="0.3" >T<tspan font-size="10.6" dy="4.0">N</tspan></text>
<rect x="425.7" y="276.40" width="16.4" height="15.8" fill="#000" stroke="#000" stroke-width="1.4"/>
<text x="451.20" y="287.70" font-size="16.2" text-anchor="start" fill="#111" stroke="#111" stroke-width="0.3" >T<tspan font-size="10.6" dy="4.0">SCM</tspan></text>
<rect x="425.7" y="300.70" width="16.4" height="15.8" fill="#e0e0e0" stroke="#888" stroke-width="1.4"/>
<text x="451.20" y="312.00" font-size="16.2" text-anchor="start" fill="#111" stroke="#111" stroke-width="0.3" >T<tspan font-size="10.6" dy="4.0">CM</tspan></text>
<rect x="425.7" y="325.00" width="16.4" height="15.8" fill="#5a5a5a" stroke="#555" stroke-width="1.4"/>
<text x="451.20" y="336.30" font-size="16.2" text-anchor="start" fill="#111" stroke="#111" stroke-width="0.3" >T<tspan font-size="10.6" dy="4.0">EM</tspan></text>
<text x="0.80" y="394.20" font-size="17.5" text-anchor="start" font-weight="bold" fill="#000" stroke="#000" stroke-width="0.3" >C</text>
<line x1="45.20" y1="407.52" x2="45.20" y2="562.70" stroke="#666" stroke-width="1.4" />
<line x1="44.50" y1="562.10" x2="198.70" y2="562.10" stroke="#666" stroke-width="1.5" />
<line x1="43.00" y1="562.10" x2="45.20" y2="562.10" stroke="#555" stroke-width="1.2" />
<text x="42.80" y="566.20" font-size="11.5" text-anchor="end" font-weight="normal" fill="#111" stroke="#111" stroke-width="0.3" >0</text>
<line x1="43.00" y1="510.74" x2="45.20" y2="510.74" stroke="#555" stroke-width="1.2" />
<text x="42.80" y="514.84" font-size="11.5" text-anchor="end" font-weight="normal" fill="#111" stroke="#111" stroke-width="0.3" >20</text>
<line x1="43.00" y1="459.38" x2="45.20" y2="459.38" stroke="#555" stroke-width="1.2" />
<text x="42.80" y="463.48" font-size="11.5" text-anchor="end" font-weight="normal" fill="#111" stroke="#111" stroke-width="0.3" >40</text>
<line x1="43.00" y1="408.02" x2="45.20" y2="408.02" stroke="#555" stroke-width="1.2" />
<text x="42.80" y="412.12" font-size="11.5" text-anchor="end" font-weight="normal" fill="#111" stroke="#111" stroke-width="0.3" >60</text>
<line x1="43.90" y1="536.42" x2="45.20" y2="536.42" stroke="#777" stroke-width="0.9" />
<line x1="43.90" y1="485.06" x2="45.20" y2="485.06" stroke="#777" stroke-width="0.9" />
<line x1="43.90" y1="433.70" x2="45.20" y2="433.70" stroke="#777" stroke-width="0.9" />
<line x1="64.40" y1="562.10" x2="64.40" y2="564.10" stroke="#666" stroke-width="1.1" />
<line x1="102.90" y1="562.10" x2="102.90" y2="564.10" stroke="#666" stroke-width="1.1" />
<line x1="141.50" y1="562.10" x2="141.50" y2="564.10" stroke="#666" stroke-width="1.1" />
<line x1="180.00" y1="562.10" x2="180.00" y2="564.10" stroke="#666" stroke-width="1.1" />
<text x="64.40" y="575.90" font-size="11.8" text-anchor="middle" font-weight="normal" fill="#111" stroke="#111" stroke-width="0.3" >LK</text>
<text x="102.90" y="575.90" font-size="11.8" text-anchor="middle" font-weight="normal" fill="#111" stroke="#111" stroke-width="0.3" >day 3</text>
<text x="141.50" y="575.90" font-size="11.8" text-anchor="middle" font-weight="normal" fill="#111" stroke="#111" stroke-width="0.3" >day 8</text>
<text x="180.00" y="575.90" font-size="11.8" text-anchor="middle" font-weight="normal" fill="#111" stroke="#111" stroke-width="0.3" >day 30</text>
<text transform="translate(19.2,564.1) rotate(-90)" font-size="13.5" fill="#111" stroke="#111" stroke-width="0.3">Circulating CD4<tspan font-size="9" dy="-5.3">+</tspan><tspan dy="5.3"> T cells (%)</tspan></text>
<line x1="64.40" y1="493.10" x2="102.90" y2="471.50" stroke="#d4d4d4" stroke-width="1.0" />
<line x1="102.90" y1="471.50" x2="141.50" y2="469.30" stroke="#b8b8b8" stroke-width="1.2" stroke-dasharray="1.6,1.2"/>
<line x1="141.50" y1="469.30" x2="180.00" y2="442.30" stroke="#cfcfcf" stroke-width="1.0" />
<path d="M64.40,487.20 L102.90,528.00 L141.50,519.20 L180.00,474.20" fill="none" stroke="#8a8a8a" stroke-width="1.1" stroke-dasharray="2,1.4"/>
<path d="M64.40,482.20 L102.90,485.60 L141.50,558.90 L180.00,548.60" fill="none" stroke="#2a2a2a" stroke-width="1.1" />
<path d="M64.40,556.30 L102.90,526.20 L141.50,467.40 L180.00,542.30" fill="none" stroke="#2a2a2a" stroke-width="1.1" />
<line x1="64.40" y1="487.60" x2="64.40" y2="498.60" stroke="#bdbdbd" stroke-width="1.0" />
<line x1="62.30" y1="487.60" x2="66.50" y2="487.60" stroke="#bdbdbd" stroke-width="1.0" />
<line x1="62.30" y1="498.60" x2="66.50" y2="498.60" stroke="#bdbdbd" stroke-width="1.0" />
<line x1="64.40" y1="484.20" x2="64.40" y2="490.20" stroke="#9a9a9a" stroke-width="1.0" />
<line x1="62.30" y1="484.20" x2="66.50" y2="484.20" stroke="#9a9a9a" stroke-width="1.0" />
<line x1="62.30" y1="490.20" x2="66.50" y2="490.20" stroke="#9a9a9a" stroke-width="1.0" />
<line x1="64.40" y1="476.20" x2="64.40" y2="488.20" stroke="#333" stroke-width="1.0" />
<line x1="62.60" y1="476.20" x2="66.20" y2="476.20" stroke="#333" stroke-width="1.0" />
<line x1="62.60" y1="488.20" x2="66.20" y2="488.20" stroke="#333" stroke-width="1.0" />
<line x1="64.40" y1="555.50" x2="64.40" y2="557.10" stroke="#333" stroke-width="1.0" />
<line x1="62.60" y1="555.50" x2="66.20" y2="555.50" stroke="#333" stroke-width="1.0" />
<line x1="62.60" y1="557.10" x2="66.20" y2="557.10" stroke="#333" stroke-width="1.0" />
<line x1="102.90" y1="463.10" x2="102.90" y2="479.90" stroke="#bdbdbd" stroke-width="1.0" />
<line x1="100.80" y1="463.10" x2="105.00" y2="463.10" stroke="#bdbdbd" stroke-width="1.0" />
<line x1="100.80" y1="479.90" x2="105.00" y2="479.90" stroke="#bdbdbd" stroke-width="1.0" />
<line x1="102.90" y1="524.00" x2="102.90" y2="532.00" stroke="#9a9a9a" stroke-width="1.0" />
<line x1="100.80" y1="524.00" x2="105.00" y2="524.00" stroke="#9a9a9a" stroke-width="1.0" />
<line x1="100.80" y1="532.00" x2="105.00" y2="532.00" stroke="#9a9a9a" stroke-width="1.0" />
<line x1="102.90" y1="479.40" x2="102.90" y2="491.80" stroke="#333" stroke-width="1.0" />
<line x1="101.10" y1="479.40" x2="104.70" y2="479.40" stroke="#333" stroke-width="1.0" />
<line x1="101.10" y1="491.80" x2="104.70" y2="491.80" stroke="#333" stroke-width="1.0" />
<line x1="102.90" y1="521.20" x2="102.90" y2="531.20" stroke="#333" stroke-width="1.0" />
<line x1="101.10" y1="521.20" x2="104.70" y2="521.20" stroke="#333" stroke-width="1.0" />
<line x1="101.10" y1="531.20" x2="104.70" y2="531.20" stroke="#333" stroke-width="1.0" />
<line x1="141.50" y1="466.30" x2="141.50" y2="472.30" stroke="#bdbdbd" stroke-width="1.0" />
<line x1="139.40" y1="466.30" x2="143.60" y2="466.30" stroke="#bdbdbd" stroke-width="1.0" />
<line x1="139.40" y1="472.30" x2="143.60" y2="472.30" stroke="#bdbdbd" stroke-width="1.0" />
<line x1="141.50" y1="514.70" x2="141.50" y2="523.70" stroke="#9a9a9a" stroke-width="1.0" />
<line x1="139.40" y1="514.70" x2="143.60" y2="514.70" stroke="#9a9a9a" stroke-width="1.0" />
<line x1="139.40" y1="523.70" x2="143.60" y2="523.70" stroke="#9a9a9a" stroke-width="1.0" />
<line x1="141.50" y1="557.90" x2="141.50" y2="559.90" stroke="#333" stroke-width="1.0" />
<line x1="139.70" y1="557.90" x2="143.30" y2="557.90" stroke="#333" stroke-width="1.0" />
<line x1="139.70" y1="559.90" x2="143.30" y2="559.90" stroke="#333" stroke-width="1.0" />
<line x1="141.50" y1="458.40" x2="141.50" y2="476.40" stroke="#333" stroke-width="1.0" />
<line x1="139.70" y1="458.40" x2="143.30" y2="458.40" stroke="#333" stroke-width="1.0" />
<line x1="139.70" y1="476.40" x2="143.30" y2="476.40" stroke="#333" stroke-width="1.0" />
<line x1="180.00" y1="434.50" x2="180.00" y2="450.10" stroke="#bdbdbd" stroke-width="1.0" />
<line x1="177.90" y1="434.50" x2="182.10" y2="434.50" stroke="#bdbdbd" stroke-width="1.0" />
<line x1="177.90" y1="450.10" x2="182.10" y2="450.10" stroke="#bdbdbd" stroke-width="1.0" />
<line x1="180.00" y1="466.10" x2="180.00" y2="482.30" stroke="#9a9a9a" stroke-width="1.0" />
<line x1="177.90" y1="466.10" x2="182.10" y2="466.10" stroke="#9a9a9a" stroke-width="1.0" />
<line x1="177.90" y1="482.30" x2="182.10" y2="482.30" stroke="#9a9a9a" stroke-width="1.0" />
<line x1="180.00" y1="547.10" x2="180.00" y2="550.10" stroke="#333" stroke-width="1.0" />
<line x1="178.20" y1="547.10" x2="181.80" y2="547.10" stroke="#333" stroke-width="1.0" />
<line x1="178.20" y1="550.10" x2="181.80" y2="550.10" stroke="#333" stroke-width="1.0" />
<line x1="180.00" y1="540.30" x2="180.00" y2="544.30" stroke="#333" stroke-width="1.0" />
<line x1="178.20" y1="540.30" x2="181.80" y2="540.30" stroke="#333" stroke-width="1.0" />
<line x1="178.20" y1="544.30" x2="181.80" y2="544.30" stroke="#333" stroke-width="1.0" />
<path d="M64.40,489.90 L67.60,495.50 L61.20,495.50Z" fill="#fff" stroke="#b0b0b0" stroke-width="1.0"/>
<path d="M64.40,489.90 L67.10,485.18 L61.70,485.18Z" fill="#6e6e6e" stroke="#6e6e6e" stroke-width="0.8"/>
<rect x="61.50" y="553.40" width="5.8" height="5.8" fill="#000"/>
<circle cx="64.4" cy="482.2" r="3.0" fill="#fff" stroke="#222" stroke-width="1.1"/>
<path d="M102.90,468.30 L106.10,473.90 L99.70,473.90Z" fill="#fff" stroke="#b0b0b0" stroke-width="1.0"/>
<path d="M102.90,530.70 L105.60,525.98 L100.20,525.98Z" fill="#6e6e6e" stroke="#6e6e6e" stroke-width="0.8"/>
<rect x="100.00" y="523.30" width="5.8" height="5.8" fill="#000"/>
<circle cx="102.9" cy="485.6" r="3.0" fill="#fff" stroke="#222" stroke-width="1.1"/>
<path d="M141.50,466.10 L144.70,471.70 L138.30,471.70Z" fill="#fff" stroke="#b0b0b0" stroke-width="1.0"/>
<path d="M141.50,521.90 L144.20,517.18 L138.80,517.18Z" fill="#6e6e6e" stroke="#6e6e6e" stroke-width="0.8"/>
<rect x="138.60" y="464.50" width="5.8" height="5.8" fill="#000"/>
<circle cx="141.5" cy="558.9" r="3.0" fill="#fff" stroke="#222" stroke-width="1.1"/>
<path d="M180.00,439.10 L183.20,444.70 L176.80,444.70Z" fill="#fff" stroke="#b0b0b0" stroke-width="1.0"/>
<path d="M180.00,476.90 L182.70,472.18 L177.30,472.18Z" fill="#6e6e6e" stroke="#6e6e6e" stroke-width="0.8"/>
<rect x="177.10" y="539.40" width="5.8" height="5.8" fill="#000"/>
<circle cx="180.0" cy="548.6" r="3.0" fill="#fff" stroke="#222" stroke-width="1.1"/>
<circle cx="57.8" cy="409.5" r="2.7" fill="#fff" stroke="#222" stroke-width="1"/>
<text x="64.50" y="413.00" font-size="11.2" text-anchor="start" fill="#111" stroke="#111" stroke-width="0.3" >T<tspan font-size="7.9" dy="2.8">N</tspan></text>
<rect x="85.6" y="406.9" width="5.6" height="5.6" fill="#000"/>
<text x="95.20" y="413.00" font-size="11.2" text-anchor="start" fill="#111" stroke="#111" stroke-width="0.3" >T<tspan font-size="7.9" dy="2.8">SCM</tspan></text>
<path d="M131.20,407.00 L133.80,411.55 L128.60,411.55Z" fill="#fff" stroke="#bbb" stroke-width="0.9"/>
<text x="138.00" y="413.00" font-size="11.2" text-anchor="start" fill="#111" stroke="#111" stroke-width="0.3" >T<tspan font-size="7.9" dy="2.8">CM</tspan></text>
<path d="M170.20,411.60 L172.60,407.40 L167.80,407.40Z" fill="#777" stroke="#777" stroke-width="0.8"/>
<text x="176.00" y="413.00" font-size="11.2" text-anchor="start" fill="#111" stroke="#111" stroke-width="0.3" >T<tspan font-size="7.9" dy="2.8">EM</tspan></text>
<text x="225.60" y="394.20" font-size="17.5" text-anchor="start" font-weight="bold" fill="#000" stroke="#000" stroke-width="0.3" >D</text>
<line x1="261.30" y1="408.00" x2="261.30" y2="562.70" stroke="#555" stroke-width="1.5" />
<line x1="260.60" y1="562.10" x2="520.00" y2="562.10" stroke="#555" stroke-width="1.5" />
<line x1="259.10" y1="562.10" x2="261.30" y2="562.10" stroke="#555" stroke-width="1.2" />
<text x="258.90" y="566.60" font-size="10.3" text-anchor="end" font-weight="normal" fill="#111" stroke="#111" stroke-width="0.3" >0</text>
<line x1="259.10" y1="531.38" x2="261.30" y2="531.38" stroke="#555" stroke-width="1.2" />
<text x="258.90" y="535.88" font-size="10.3" text-anchor="end" font-weight="normal" fill="#111" stroke="#111" stroke-width="0.3" >20</text>
<line x1="259.10" y1="500.66" x2="261.30" y2="500.66" stroke="#555" stroke-width="1.2" />
<text x="258.90" y="505.16" font-size="10.3" text-anchor="end" font-weight="normal" fill="#111" stroke="#111" stroke-width="0.3" >40</text>
<line x1="259.10" y1="469.94" x2="261.30" y2="469.94" stroke="#555" stroke-width="1.2" />
<text x="258.90" y="474.44" font-size="10.3" text-anchor="end" font-weight="normal" fill="#111" stroke="#111" stroke-width="0.3" >60</text>
<line x1="259.10" y1="439.22" x2="261.30" y2="439.22" stroke="#555" stroke-width="1.2" />
<text x="258.90" y="443.72" font-size="10.3" text-anchor="end" font-weight="normal" fill="#111" stroke="#111" stroke-width="0.3" >80</text>
<line x1="259.10" y1="408.50" x2="261.30" y2="408.50" stroke="#555" stroke-width="1.2" />
<text x="258.90" y="413.00" font-size="10.3" text-anchor="end" font-weight="normal" fill="#111" stroke="#111" stroke-width="0.3" >100</text>
<text transform="translate(236.4,555.6) rotate(-90)" font-size="13.9" fill="#111" stroke="#111" stroke-width="0.3">CD31<tspan font-size="9" dy="-5.2">+</tspan><tspan dy="5.2"> CD4</tspan><tspan font-size="9" dy="-5.2">+</tspan><tspan dy="5.2"> T cells (%)</tspan></text>
<line x1="268.00" y1="448.10" x2="268.00" y2="452.50" stroke="#333" stroke-width="1.1" />
<line x1="268.00" y1="472.30" x2="268.00" y2="495.40" stroke="#333" stroke-width="1.1" />
<line x1="265.60" y1="448.10" x2="270.40" y2="448.10" stroke="#333" stroke-width="1.1" />
<line x1="265.60" y1="495.40" x2="270.40" y2="495.40" stroke="#333" stroke-width="1.1" />
<rect x="263.40" y="452.50" width="9.20" height="19.80" fill="#fff" stroke="#333" stroke-width="1.1"/>
<line x1="263.40" y1="460.50" x2="272.60" y2="460.50" stroke="#333" stroke-width="1.1" />
<line x1="281.40" y1="491.50" x2="281.40" y2="507.10" stroke="#333" stroke-width="1.1" />
<line x1="281.40" y1="523.70" x2="281.40" y2="546.70" stroke="#333" stroke-width="1.1" />
<line x1="279.00" y1="491.50" x2="283.80" y2="491.50" stroke="#333" stroke-width="1.1" />
<line x1="279.00" y1="546.70" x2="283.80" y2="546.70" stroke="#333" stroke-width="1.1" />
<rect x="276.80" y="507.10" width="9.20" height="16.60" fill="#000" stroke="#000" stroke-width="1.1"/>
<line x1="276.80" y1="521.60" x2="286.00" y2="521.60" stroke="#000" stroke-width="1.1" />
<line x1="295.00" y1="494.00" x2="295.00" y2="524.70" stroke="#bdbdbd" stroke-width="1.1" />
<line x1="295.00" y1="550.70" x2="295.00" y2="555.30" stroke="#bdbdbd" stroke-width="1.1" />
<line x1="292.60" y1="494.00" x2="297.40" y2="494.00" stroke="#bdbdbd" stroke-width="1.1" />
<line x1="292.60" y1="555.30" x2="297.40" y2="555.30" stroke="#bdbdbd" stroke-width="1.1" />
<rect x="290.40" y="524.70" width="9.20" height="26.00" fill="#dedede" stroke="#c8c8c8" stroke-width="1.1"/>
<line x1="290.40" y1="540.20" x2="299.60" y2="540.20" stroke="#c8c8c8" stroke-width="1.1" />
<line x1="308.60" y1="514.80" x2="308.60" y2="536.10" stroke="#8a8a8a" stroke-width="1.1" />
<line x1="308.60" y1="553.50" x2="308.60" y2="561.50" stroke="#8a8a8a" stroke-width="1.1" />
<line x1="306.20" y1="514.80" x2="311.00" y2="514.80" stroke="#8a8a8a" stroke-width="1.1" />
<line x1="306.20" y1="561.50" x2="311.00" y2="561.50" stroke="#8a8a8a" stroke-width="1.1" />
<rect x="304.00" y="536.10" width="9.20" height="17.40" fill="#767676" stroke="#6a6a6a" stroke-width="1.1"/>
<line x1="304.00" y1="550.10" x2="313.20" y2="550.10" stroke="#999" stroke-width="1.1" />
<line x1="336.00" y1="444.60" x2="336.00" y2="463.70" stroke="#333" stroke-width="1.1" />
<line x1="336.00" y1="482.50" x2="336.00" y2="487.10" stroke="#333" stroke-width="1.1" />
<line x1="333.60" y1="444.60" x2="338.40" y2="444.60" stroke="#333" stroke-width="1.1" />
<line x1="333.60" y1="487.10" x2="338.40" y2="487.10" stroke="#333" stroke-width="1.1" />
<rect x="331.40" y="463.70" width="9.20" height="18.80" fill="#fff" stroke="#333" stroke-width="1.1"/>
<line x1="331.40" y1="470.00" x2="340.60" y2="470.00" stroke="#333" stroke-width="1.1" />
<line x1="349.30" y1="522.90" x2="349.30" y2="525.00" stroke="#333" stroke-width="1.1" />
<line x1="349.30" y1="545.50" x2="349.30" y2="556.90" stroke="#333" stroke-width="1.1" />
<line x1="346.90" y1="522.90" x2="351.70" y2="522.90" stroke="#333" stroke-width="1.1" />
<line x1="346.90" y1="556.90" x2="351.70" y2="556.90" stroke="#333" stroke-width="1.1" />
<rect x="344.70" y="525.00" width="9.20" height="20.50" fill="#000" stroke="#000" stroke-width="1.1"/>
<line x1="344.70" y1="544.00" x2="353.90" y2="544.00" stroke="#000" stroke-width="1.1" />
<line x1="363.00" y1="500.90" x2="363.00" y2="520.10" stroke="#bdbdbd" stroke-width="1.1" />
<line x1="363.00" y1="549.50" x2="363.00" y2="561.50" stroke="#bdbdbd" stroke-width="1.1" />
<line x1="360.60" y1="500.90" x2="365.40" y2="500.90" stroke="#bdbdbd" stroke-width="1.1" />
<line x1="360.60" y1="561.50" x2="365.40" y2="561.50" stroke="#bdbdbd" stroke-width="1.1" />
<rect x="358.40" y="520.10" width="9.20" height="29.40" fill="#dedede" stroke="#c8c8c8" stroke-width="1.1"/>
<line x1="358.40" y1="543.30" x2="367.60" y2="543.30" stroke="#c8c8c8" stroke-width="1.1" />
<line x1="376.50" y1="544.20" x2="376.50" y2="546.70" stroke="#8a8a8a" stroke-width="1.1" />
<line x1="376.50" y1="555.10" x2="376.50" y2="561.50" stroke="#8a8a8a" stroke-width="1.1" />
<line x1="374.10" y1="544.20" x2="378.90" y2="544.20" stroke="#8a8a8a" stroke-width="1.1" />
<line x1="374.10" y1="561.50" x2="378.90" y2="561.50" stroke="#8a8a8a" stroke-width="1.1" />
<rect x="371.90" y="546.70" width="9.20" height="8.40" fill="#767676" stroke="#6a6a6a" stroke-width="1.1"/>
<line x1="371.90" y1="550.70" x2="381.10" y2="550.70" stroke="#999" stroke-width="1.1" />
<line x1="417.30" y1="467.10" x2="417.30" y2="471.40" stroke="#333" stroke-width="1.1" />
<line x1="417.30" y1="496.20" x2="417.30" y2="529.70" stroke="#333" stroke-width="1.1" />
<line x1="414.90" y1="467.10" x2="419.70" y2="467.10" stroke="#333" stroke-width="1.1" />
<line x1="414.90" y1="529.70" x2="419.70" y2="529.70" stroke="#333" stroke-width="1.1" />
<rect x="412.70" y="471.40" width="9.20" height="24.80" fill="#000" stroke="#000" stroke-width="1.1"/>
<line x1="412.70" y1="494.00" x2="421.90" y2="494.00" stroke="#000" stroke-width="1.1" />
<line x1="431.00" y1="482.50" x2="431.00" y2="518.80" stroke="#bdbdbd" stroke-width="1.1" />
<line x1="431.00" y1="539.00" x2="431.00" y2="557.60" stroke="#bdbdbd" stroke-width="1.1" />
<line x1="428.60" y1="482.50" x2="433.40" y2="482.50" stroke="#bdbdbd" stroke-width="1.1" />
<line x1="428.60" y1="557.60" x2="433.40" y2="557.60" stroke="#bdbdbd" stroke-width="1.1" />
<rect x="426.40" y="518.80" width="9.20" height="20.20" fill="#dedede" stroke="#c8c8c8" stroke-width="1.1"/>
<line x1="426.40" y1="532.80" x2="435.60" y2="532.80" stroke="#c8c8c8" stroke-width="1.1" />
<line x1="444.40" y1="498.70" x2="444.40" y2="530.30" stroke="#8a8a8a" stroke-width="1.1" />
<line x1="444.40" y1="557.90" x2="444.40" y2="561.50" stroke="#8a8a8a" stroke-width="1.1" />
<line x1="442.00" y1="498.70" x2="446.80" y2="498.70" stroke="#8a8a8a" stroke-width="1.1" />
<line x1="442.00" y1="561.50" x2="446.80" y2="561.50" stroke="#8a8a8a" stroke-width="1.1" />
<rect x="439.80" y="530.30" width="9.20" height="27.60" fill="#767676" stroke="#6a6a6a" stroke-width="1.1"/>
<line x1="471.20" y1="436.70" x2="471.20" y2="456.30" stroke="#333" stroke-width="1.1" />
<line x1="471.20" y1="477.30" x2="471.20" y2="501.00" stroke="#333" stroke-width="1.1" />
<line x1="468.80" y1="436.70" x2="473.60" y2="436.70" stroke="#333" stroke-width="1.1" />
<line x1="468.80" y1="501.00" x2="473.60" y2="501.00" stroke="#333" stroke-width="1.1" />
<rect x="466.60" y="456.30" width="9.20" height="21.00" fill="#fff" stroke="#333" stroke-width="1.1"/>
<line x1="466.60" y1="463.60" x2="475.80" y2="463.60" stroke="#333" stroke-width="1.1" />
<line x1="485.20" y1="474.20" x2="485.20" y2="499.50" stroke="#333" stroke-width="1.1" />
<line x1="485.20" y1="527.00" x2="485.20" y2="549.80" stroke="#333" stroke-width="1.1" />
<line x1="482.80" y1="474.20" x2="487.60" y2="474.20" stroke="#333" stroke-width="1.1" />
<line x1="482.80" y1="549.80" x2="487.60" y2="549.80" stroke="#333" stroke-width="1.1" />
<rect x="480.60" y="499.50" width="9.20" height="27.50" fill="#000" stroke="#000" stroke-width="1.1"/>
<line x1="480.60" y1="525.00" x2="489.80" y2="525.00" stroke="#000" stroke-width="1.1" />
<line x1="498.80" y1="494.80" x2="498.80" y2="505.30" stroke="#bdbdbd" stroke-width="1.1" />
<line x1="498.80" y1="539.30" x2="498.80" y2="548.30" stroke="#bdbdbd" stroke-width="1.1" />
<line x1="496.40" y1="494.80" x2="501.20" y2="494.80" stroke="#bdbdbd" stroke-width="1.1" />
<line x1="496.40" y1="548.30" x2="501.20" y2="548.30" stroke="#bdbdbd" stroke-width="1.1" />
<rect x="494.20" y="505.30" width="9.20" height="34.00" fill="#dedede" stroke="#c8c8c8" stroke-width="1.1"/>
<line x1="494.20" y1="528.30" x2="503.40" y2="528.30" stroke="#c8c8c8" stroke-width="1.1" />
<line x1="512.50" y1="521.60" x2="512.50" y2="529.50" stroke="#8a8a8a" stroke-width="1.1" />
<line x1="512.50" y1="544.50" x2="512.50" y2="553.50" stroke="#8a8a8a" stroke-width="1.1" />
<line x1="510.10" y1="521.60" x2="514.90" y2="521.60" stroke="#8a8a8a" stroke-width="1.1" />
<line x1="510.10" y1="553.50" x2="514.90" y2="553.50" stroke="#8a8a8a" stroke-width="1.1" />
<rect x="507.90" y="529.50" width="9.20" height="15.00" fill="#767676" stroke="#6a6a6a" stroke-width="1.1"/>
<line x1="507.90" y1="537.30" x2="517.10" y2="537.30" stroke="#999" stroke-width="1.1" />
<path d="M267.80,445.20 L267.80,441.40 L281.70,441.40 L281.70,483.80" fill="none" stroke="#333" stroke-width="1.15" />
<circle cx="269.90" cy="439.30" r="1.1" fill="#222"/>
<circle cx="273.50" cy="439.30" r="1.1" fill="#222"/>
<circle cx="277.10" cy="439.30" r="1.1" fill="#222"/>
<circle cx="280.70" cy="439.30" r="1.1" fill="#222"/>
<path d="M267.80,445.20 L267.80,437.10 L294.90,437.10 L294.90,487.30" fill="none" stroke="#aaa" stroke-width="1.1" />
<circle cx="277.10" cy="434.50" r="1.0" fill="#aaa"/>
<circle cx="280.70" cy="434.50" r="1.0" fill="#aaa"/>
<circle cx="284.30" cy="434.50" r="1.0" fill="#aaa"/>
<circle cx="287.90" cy="434.50" r="1.0" fill="#aaa"/>
<path d="M267.80,445.20 L267.80,432.50 L308.80,432.50 L308.80,508.60" fill="none" stroke="#c8c8c8" stroke-width="1.1" />
<circle cx="283.20" cy="429.80" r="1.0" fill="#c0c0c0"/>
<circle cx="286.80" cy="429.80" r="1.0" fill="#c0c0c0"/>
<circle cx="290.40" cy="429.80" r="1.0" fill="#c0c0c0"/>
<circle cx="294.00" cy="429.80" r="1.0" fill="#c0c0c0"/>
<path d="M281.70,427.30 L281.70,420.60 L349.40,420.60 L349.40,515.40" fill="none" stroke="#333" stroke-width="1.15" />
<circle cx="312.40" cy="418.30" r="1.0" fill="#222"/>
<circle cx="316.00" cy="418.30" r="1.0" fill="#222"/>
<circle cx="319.60" cy="418.30" r="1.0" fill="#222"/>
<path d="M281.70,427.30 L281.70,415.70 L417.50,415.70 L417.50,463.10" fill="none" stroke="#333" stroke-width="1.15" />
<circle cx="349.00" cy="413.30" r="1.0" fill="#222"/>
<circle cx="352.60" cy="413.30" r="1.0" fill="#222"/>
<circle cx="356.20" cy="413.30" r="1.0" fill="#222"/>
<path d="M417.50,416.00 L417.50,408.40 L485.40,408.40 L485.40,461.50" fill="none" stroke="#333" stroke-width="1.15" />
<circle cx="450.40" cy="406.00" r="1.0" fill="#222"/>
<circle cx="454.00" cy="406.00" r="1.0" fill="#222"/>
<path d="M471.30,433.60 L471.30,428.70 L485.40,428.70 L485.40,461.50" fill="none" stroke="#333" stroke-width="1.15" />
<circle cx="473.50" cy="425.80" r="1.0" fill="#222"/>
<circle cx="476.90" cy="425.80" r="1.0" fill="#222"/>
<circle cx="480.30" cy="425.80" r="1.0" fill="#222"/>
<circle cx="483.70" cy="425.80" r="1.0" fill="#222"/>
<text x="399.00" y="560.40" font-size="8.7" text-anchor="start" font-weight="normal" fill="#111" stroke="#111" stroke-width="0.3" >n.e.</text>
<text transform="translate(269.20,565.6) rotate(-90)" font-size="9.6" text-anchor="end" fill="#111" stroke="#111" stroke-width="0.3">T<tspan font-size="7.6" dy="3.6">N</tspan></text>
<text transform="translate(282.60,565.6) rotate(-90)" font-size="9.6" text-anchor="end" fill="#111" stroke="#111" stroke-width="0.3">T<tspan font-size="7.6" dy="3.6">SCM</tspan></text>
<text transform="translate(296.20,565.6) rotate(-90)" font-size="9.6" text-anchor="end" fill="#111" stroke="#111" stroke-width="0.3">T<tspan font-size="7.6" dy="3.6">CM</tspan></text>
<text transform="translate(309.80,565.6) rotate(-90)" font-size="9.6" text-anchor="end" fill="#111" stroke="#111" stroke-width="0.3">T<tspan font-size="7.6" dy="3.6">EM</tspan></text>
<text transform="translate(337.20,565.6) rotate(-90)" font-size="9.6" text-anchor="end" fill="#111" stroke="#111" stroke-width="0.3">T<tspan font-size="7.6" dy="3.6">N</tspan></text>
<text transform="translate(350.50,565.6) rotate(-90)" font-size="9.6" text-anchor="end" fill="#111" stroke="#111" stroke-width="0.3">T<tspan font-size="7.6" dy="3.6">SCM</tspan></text>
<text transform="translate(364.20,565.6) rotate(-90)" font-size="9.6" text-anchor="end" fill="#111" stroke="#111" stroke-width="0.3">T<tspan font-size="7.6" dy="3.6">CM</tspan></text>
<text transform="translate(377.70,565.6) rotate(-90)" font-size="9.6" text-anchor="end" fill="#111" stroke="#111" stroke-width="0.3">T<tspan font-size="7.6" dy="3.6">EM</tspan></text>
<text transform="translate(404.90,565.6) rotate(-90)" font-size="9.6" text-anchor="end" fill="#111" stroke="#111" stroke-width="0.3">T<tspan font-size="7.6" dy="3.6">N</tspan></text>
<text transform="translate(418.50,565.6) rotate(-90)" font-size="9.6" text-anchor="end" fill="#111" stroke="#111" stroke-width="0.3">T<tspan font-size="7.6" dy="3.6">SCM</tspan></text>
<text transform="translate(432.20,565.6) rotate(-90)" font-size="9.6" text-anchor="end" fill="#111" stroke="#111" stroke-width="0.3">T<tspan font-size="7.6" dy="3.6">CM</tspan></text>
<text transform="translate(445.60,565.6) rotate(-90)" font-size="9.6" text-anchor="end" fill="#111" stroke="#111" stroke-width="0.3">T<tspan font-size="7.6" dy="3.6">EM</tspan></text>
<text transform="translate(472.40,565.6) rotate(-90)" font-size="9.6" text-anchor="end" fill="#111" stroke="#111" stroke-width="0.3">T<tspan font-size="7.6" dy="3.6">N</tspan></text>
<text transform="translate(486.40,565.6) rotate(-90)" font-size="9.6" text-anchor="end" fill="#111" stroke="#111" stroke-width="0.3">T<tspan font-size="7.6" dy="3.6">SCM</tspan></text>
<text transform="translate(500.00,565.6) rotate(-90)" font-size="9.6" text-anchor="end" fill="#111" stroke="#111" stroke-width="0.3">T<tspan font-size="7.6" dy="3.6">CM</tspan></text>
<text transform="translate(513.70,565.6) rotate(-90)" font-size="9.6" text-anchor="end" fill="#111" stroke="#111" stroke-width="0.3">T<tspan font-size="7.6" dy="3.6">EM</tspan></text>
<line x1="262.40" y1="589.70" x2="312.80" y2="589.70" stroke="#444" stroke-width="1.3" />
<text x="287.60" y="601.50" font-size="10.3" text-anchor="middle" font-weight="normal" fill="#111" stroke="#111" stroke-width="0.3" >LK</text>
<line x1="332.00" y1="589.70" x2="383.10" y2="589.70" stroke="#444" stroke-width="1.3" />
<text x="357.55" y="601.50" font-size="10.3" text-anchor="middle" font-weight="normal" fill="#111" stroke="#111" stroke-width="0.3" >day 3</text>
<line x1="400.00" y1="589.70" x2="450.50" y2="589.70" stroke="#444" stroke-width="1.3" />
<text x="425.25" y="601.50" font-size="10.3" text-anchor="middle" font-weight="normal" fill="#111" stroke="#111" stroke-width="0.3" >day 8</text>
<line x1="467.50" y1="589.70" x2="518.00" y2="589.70" stroke="#444" stroke-width="1.3" />
<text x="492.75" y="601.50" font-size="10.3" text-anchor="middle" font-weight="normal" fill="#111" stroke="#111" stroke-width="0.3" >day 8</text>
</svg></body></html>
